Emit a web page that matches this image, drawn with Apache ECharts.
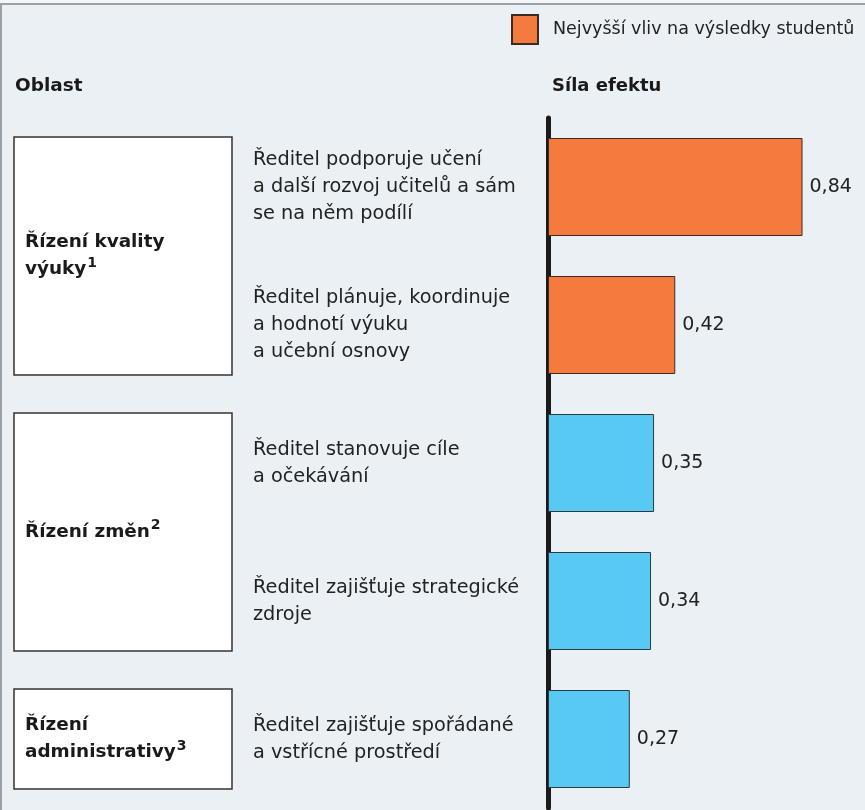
<!DOCTYPE html>
<html><head><meta charset="utf-8">
<script src="https://cdn.jsdelivr.net/npm/echarts@6/dist/echarts.min.js"></script>
<style>html,body{margin:0;padding:0;background:#ebf0f4;} #c{width:865px;height:810px;}</style>
</head><body><div id="c"></div>
<script>
const categories = [
  'Ředitel podporuje učení\na další rozvoj učitelů a sám\nse na něm podílí',
  'Ředitel plánuje, koordinuje\na hodnotí výuku\na učební osnovy',
  'Ředitel stanovuje cíle\na očekávání',
  'Ředitel zajišťuje strategické\nzdroje',
  'Ředitel zajišťuje spořádané\na vstřícné prostředí'
];
const values = [0.84, 0.42, 0.35, 0.34, 0.27];
const highlight = [true, true, false, false, false];
const legendName = 'Nejvyšší vliv na výsledky studentů';
const groupNames = [['Řízení kvality', 'výuky'], ['Řízení změn'], ['Řízení', 'administrativy']];
const groupSups = ['1', '2', '3'];
const groupStart = [0, 2, 4];
const groupEnd = [1, 3, 4];
const headerLeft = 'Oblast';
const headerRight = 'Síla efektu';

const ORANGE = '#f47b3d', BLUE = '#57c9f2', FONT = '"DejaVu Sans", sans-serif';
const chart = echarts.init(document.getElementById('c'));
const option = {
  backgroundColor: '#ebf0f4',
  animation: false,
  textStyle: {fontFamily: FONT},
  legend: {
    data: [{name: legendName, icon: 'rect'}],
    left: 506, top: 9, itemWidth: 26, itemHeight: 29, selectedMode: false,
    textStyle: {fontSize: 17.5, color: '#222', padding: [0, 0, 0, 10], fontFamily: FONT}
  },
  grid: {left: 548, right: 14, top: 118, bottom: 2, containLabel: false},
  xAxis: {type: 'value', min: 0, max: 1, show: false},
  yAxis: {
    type: 'category', inverse: true, data: categories,
    axisLine: {show: true, lineStyle: {color: '#1a1a1a', width: 5}},
    axisTick: {show: false},
    axisLabel: {align: 'left', margin: 295, fontSize: 19.3, lineHeight: 27, color: '#222', fontFamily: FONT}
  },
  series: [{
    type: 'bar', name: legendName, barWidth: 98,
    itemStyle: {color: ORANGE, borderColor: '#3a2c24', borderWidth: 1},
    data: values.map((v, i) => ({value: v, itemStyle: {color: highlight[i] ? ORANGE : BLUE, borderColor: highlight[i] ? '#3a2c24' : '#2c3a44'}})),
    label: {show: true, position: 'right', distance: 7, fontSize: 19, color: '#222', fontFamily: FONT,
      formatter: p => p.value.toFixed(2).replace('.', ',')}
  }]
};
chart.setOption(option);

const gfx = [
  {type: 'rect', shape: {x: 0, y: 0, width: 865, height: 3}, style: {fill: '#f4f6f8'}, silent: true},
  {type: 'rect', shape: {x: 0, y: 3, width: 865, height: 2}, style: {fill: '#9aa0a6'}, silent: true},
  {type: 'rect', shape: {x: 0, y: 3, width: 2, height: 807}, style: {fill: '#9aa0a6'}, silent: true},
  {type: 'text', x: 15, y: 86, style: {text: headerLeft, font: 'bold 18.5px ' + FONT, fill: '#1a1a1a', verticalAlign: 'middle'}},
  {type: 'text', x: 552, y: 86, style: {text: headerRight, font: 'bold 18px ' + FONT, fill: '#1a1a1a', verticalAlign: 'middle'}}
];
groupNames.forEach((lines, g) => {
  const y0 = chart.convertToPixel({yAxisIndex: 0}, categories[groupStart[g]]) - 50;
  const y1 = chart.convertToPixel({yAxisIndex: 0}, categories[groupEnd[g]]) + 50;
  gfx.push({type: 'rect', shape: {x: 14, y: y0, width: 218, height: y1 - y0},
    style: {fill: '#ffffff', stroke: '#333', lineWidth: 1.5}, silent: true});
  const txt = lines.map((l, i) => '{b|' + l + '}' + (i === lines.length - 1 ? '{s|' + groupSups[g] + '}' : '')).join('\n');
  gfx.push({type: 'text', x: 25, y: (y0 + y1) / 2, style: {
    text: txt, verticalAlign: 'middle', align: 'left',
    rich: {
      b: {fontSize: 18.4, fontWeight: 'bold', lineHeight: 27, fill: '#1a1a1a', fontFamily: FONT},
      s: {fontSize: 14, fontWeight: 'bold', lineHeight: 27, verticalAlign: 'top', padding: [0, 0, 0, 1], fill: '#1a1a1a', fontFamily: FONT}
    }
  }});
});
chart.setOption({graphic: gfx});
</script></body></html>
